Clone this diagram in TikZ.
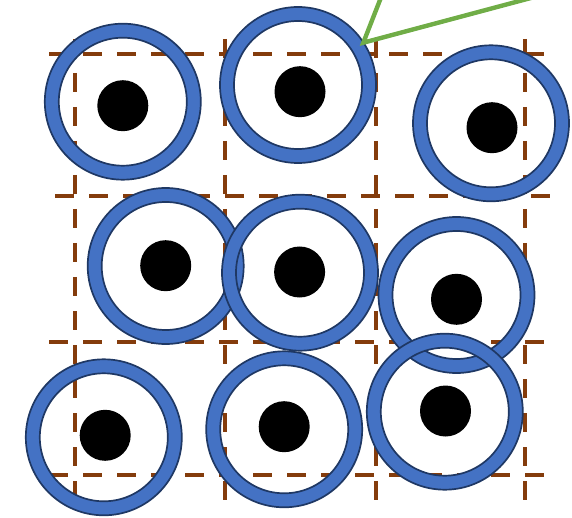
\documentclass[tikz,border=0pt]{standalone}
\definecolor{ringblue}{HTML}{4472C4}
\definecolor{ringedge}{HTML}{1F3864}
\definecolor{gridbrown}{HTML}{843C0C}
\definecolor{pointgreen}{HTML}{70AD47}
\begin{document}
\begin{tikzpicture}[x=1pt, y=-1pt,
    grid/.style={gridbrown, line width=4.4pt, dash pattern=on 19pt off 15pt},
    ring/.style={fill=ringblue, even odd rule, draw=ringedge, line width=1.7pt},
    core/.style={fill=black},
    pointer/.style={pointgreen, line width=4.4pt}]
  \useasboundingbox (0,0) rectangle (572,518);
  \clip (0,0) rectangle (572,518);
  \draw[grid] (49,54) -- (548,54);
  \draw[grid] (55,196) -- (552,196);
  \draw[grid] (49,342) -- (552,342);
  \draw[grid] (49,475) -- (552,475);
  \draw[grid] (75,39) -- (75,501);
  \draw[grid] (225,39) -- (225,501);
  \draw[grid] (376,39) -- (376,501);
  \draw[grid] (525,39) -- (525,501);
  \draw[ring] (122.8,101.7) circle (78) circle (64);
  \fill[core] (122.8,105.7) circle (25.5);
  \draw[ring] (298.0,85.0) circle (78) circle (64);
  \fill[core] (300.0,91.7) circle (25.5);
  \draw[ring] (491.0,123.3) circle (78) circle (64);
  \fill[core] (492.0,127.7) circle (25.5);
  \draw[ring] (165.7,266.0) circle (78) circle (64);
  \fill[core] (165.7,265.7) circle (25.5);
  \draw[ring] (300.0,272.7) circle (78) circle (64);
  \fill[core] (299.6,272.0) circle (25.5);
  \draw[ring] (456.5,295.0) circle (78) circle (64);
  \fill[core] (456.5,299.3) circle (25.5);
  \draw[ring] (103.8,437.3) circle (78) circle (64);
  \fill[core] (105.2,435.3) circle (25.5);
  \draw[ring] (284.2,429.3) circle (78) circle (64);
  \fill[core] (284.2,426.7) circle (25.5);
  \draw[ring] (444.8,411.7) circle (78) circle (64);
  \fill[core] (445.5,411.0) circle (25.5);
  \coordinate (tip) at (363.3,42.7);
  \coordinate (upper) at (383.9,-10);
  \coordinate (right) at (560.8,-10);
  \draw[pointer] (upper) -- (tip) -- (right);
\end{tikzpicture}
\end{document}
